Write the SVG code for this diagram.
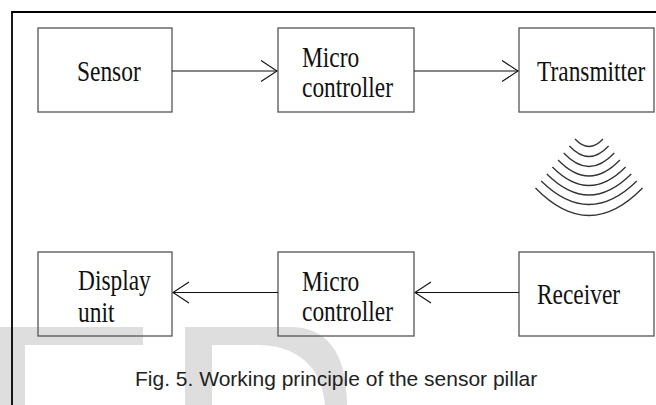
<svg xmlns="http://www.w3.org/2000/svg" width="656" height="405" viewBox="0 0 656 405">
<style>
.box{fill:none;stroke:#555;stroke-width:1.3}
.lbl{font-family:"Liberation Serif","Times New Roman",serif;font-size:30px;fill:#111}
.cap{font-family:"Liberation Sans",Arial,sans-serif;font-size:21px;fill:#222}
.conn{fill:none;stroke:#111;stroke-width:1.1}
.wave{fill:none;stroke:#333;stroke-width:1.3}
.wm{fill:#dedede;stroke:none}
</style>
<defs>
<marker id="arr" markerUnits="userSpaceOnUse" markerWidth="20" markerHeight="24" viewBox="0 0 20 24" refX="18" refY="12" orient="auto">
<path d="M2,1.5 L18,12 L2,22.5" fill="none" stroke="#111" stroke-width="1.1"/>
</marker>
</defs>
<rect x="0" y="0" width="656" height="405" fill="#fff"/>
<g id="watermark">
<path class="wm" d="M0,327 H143 V345 H25 V405 H0 Z"/>
<path class="wm" d="M185,327 H290 C325,327 347,350 347,405 H325 C322,365 295,345 257,345 H212 V405 H185 Z"/>
</g>
<g id="frame"><path d="M12,405 V12 H656" fill="none" stroke="#000" stroke-width="1.8"/></g>
<g id="sensor"><rect class="box" x="38" y="28" width="134" height="84"/>
<text class="lbl" transform="translate(77,81) scale(0.78,1)">Sensor</text></g>
<g id="micro1"><rect class="box" x="278" y="28" width="136" height="84"/>
<text class="lbl" transform="translate(302,66.7) scale(0.78,1)">Micro</text>
<text class="lbl" transform="translate(302,97) scale(0.78,1)">controller</text></g>
<g id="transmitter"><rect class="box" x="519" y="28" width="135" height="84"/>
<text class="lbl" transform="translate(537,81) scale(0.78,1)">Transmitter</text></g>
<g id="display"><rect class="box" x="38" y="252" width="134" height="84"/>
<text class="lbl" transform="translate(78,290) scale(0.78,1)">Display</text>
<text class="lbl" transform="translate(78,322) scale(0.78,1)">unit</text></g>
<g id="micro2"><rect class="box" x="278" y="252" width="136" height="84"/>
<text class="lbl" transform="translate(302,290.5) scale(0.78,1)">Micro</text>
<text class="lbl" transform="translate(302,321) scale(0.78,1)">controller</text></g>
<g id="receiver"><rect class="box" x="519" y="252" width="135" height="84"/>
<text class="lbl" transform="translate(537,304) scale(0.78,1)">Receiver</text></g>
<g id="waves">
<path class="wave" d="M575,139 Q589,154 603,139"/>
<path class="wave" d="M569.4,146 Q589,167 608.6,146"/>
<path class="wave" d="M563.7,153 Q589,180 614.3,153"/>
<path class="wave" d="M558.1,160 Q589,192 619.9,160"/>
<path class="wave" d="M552.4,167 Q589,204 625.6,167"/>
<path class="wave" d="M546.8,174 Q589,216 631.2,174"/>
<path class="wave" d="M541.2,181 Q589,228 636.8,181"/>
<path class="wave" d="M535.5,188 Q589,243 642.5,188"/>
</g>
<g id="connectors">
<path class="conn" d="M172,71 H277" marker-end="url(#arr)"/>
<path class="conn" d="M414,71 H518" marker-end="url(#arr)"/>
<path class="conn" d="M519,292.5 H415" marker-end="url(#arr)"/>
<path class="conn" d="M278,292.5 H173" marker-end="url(#arr)"/>
</g>
<text class="cap" x="135" y="386">Fig. 5. Working principle of the sensor pillar</text>
</svg>
